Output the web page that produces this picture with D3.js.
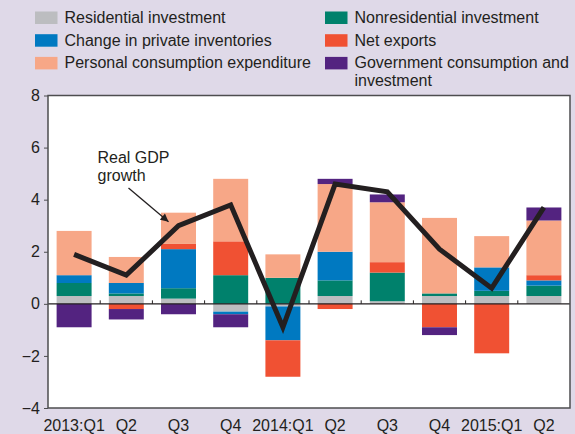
<!DOCTYPE html>
<html>
<head>
<meta charset="utf-8">
<script src="https://cdn.jsdelivr.net/npm/d3@7"></script>
<style>
  body { margin: 0; background: #dfd9e8; }
  svg { display: block; font-family: "Liberation Sans", Arial, sans-serif; }
</style>
</head>
<body>
<div id="chart"></div>
<script>
// Quartale und Achsenbeschriftung
var quarters = ["2013Q1", "2013Q2", "2013Q3", "2013Q4", "2014Q1", "2014Q2", "2014Q3", "2014Q4", "2015Q1", "2015Q2"];
var quarterLabels = ["2013:Q1", "Q2", "Q3", "Q4", "2014:Q1", "Q2", "Q3", "Q4", "2015:Q1", "Q2"];
var yTicks = [-4, -2, 0, 2, 4, 6, 8];

// Beiträge zum BIP-Wachstum (Prozentpunkte)
var residential = [0.3, 0.3, 0.2, -0.3, -0.1, 0.3, 0.1, 0.3, 0.3, 0.3];
var nonresidential = [0.5, 0.1, 0.4, 1.1, 1.0, 0.6, 1.1, 0.1, 0.2, 0.4];
var inventories = [0.3, 0.4, 1.5, -0.1, -1.3, 1.1, 0.0, 0.0, 0.9, 0.2];
var netExports = [0.0, -0.2, 0.2, 1.3, -1.4, -0.2, 0.4, -0.9, -1.9, 0.2];
var consumption = [1.7, 1.0, 1.2, 2.4, 0.9, 2.6, 2.3, 2.9, 1.2, 2.1];
var government = [-0.9, -0.4, -0.4, -0.5, 0.0, 0.2, 0.3, -0.3, 0.0, 0.5];
var gdpGrowth = [1.9, 1.1, 3.0, 3.8, -0.9, 4.6, 4.3, 2.1, 0.6, 3.7];

// Reihenfolge der Stapel (von der Nulllinie aus)
var series = [
    { key: "res", name: "Residential investment", values: residential, color: "#bcbdc0" },
    { key: "nonres", name: "Nonresidential investment", values: nonresidential, color: "#00816c" },
    { key: "inv", name: "Change in private inventories", values: inventories, color: "#0079c1" },
    { key: "nx", name: "Net exports", values: netExports, color: "#f05133" },
    { key: "pce", name: "Personal consumption expenditure", values: consumption, color: "#f7a787" },
    { key: "gov", name: "Government consumption and investment", values: government, color: "#532380" }
];
// Legende: zwei Spalten
var legendOrder = ["res", "inv", "pce", "nonres", "nx", "gov"];

var width = 575, height = 434;
var margin = { top: 95.5, right: 5, bottom: 26, left: 48 };

var svg = d3.select("#chart")
    .append("svg")
    .attr("width", width)
    .attr("height", height);

svg.append("rect")
    .attr("width", width)
    .attr("height", height)
    .attr("fill", "#dfd9e8");

var x = d3.scaleBand()
    .domain(quarters)
    .range([margin.left, width - margin.right])
    .paddingInner(0.33)
    .paddingOuter(0.165);

var y = d3.scaleLinear()
    .domain([-4, 8])
    .range([height - margin.bottom, margin.top]);

// Plotfläche
svg.append("rect")
    .attr("x", margin.left)
    .attr("y", margin.top)
    .attr("width", width - margin.right - margin.left)
    .attr("height", height - margin.bottom - margin.top)
    .attr("fill", "#ffffff");

// Tabelle für d3.stack aufbauen
var table = quarters.map(function(q, i) {
    var row = { q: q };
    series.forEach(function(s) { row[s.key] = s.values[i]; });
    return row;
});

var stacked = d3.stack()
    .keys(series.map(function(s) { return s.key; }))
    .offset(d3.stackOffsetDiverging)(table);

svg.append("g")
    .selectAll("g")
    .data(stacked)
    .enter()
    .append("g")
    .attr("fill", function(d, i) { return series[i].color; })
    .selectAll("rect")
    .data(function(d) { return d; })
    .enter()
    .append("rect")
    .attr("x", function(d) { return x(d.data.q); })
    .attr("width", x.bandwidth())
    .attr("y", function(d) { return y(Math.max(d[0], d[1])); })
    .attr("height", function(d) { return Math.abs(y(d[0]) - y(d[1])); });

// Nulllinie mit kleinen Strichen zwischen den Quartalen
svg.append("line")
    .attr("x1", margin.left)
    .attr("x2", width - margin.right)
    .attr("y1", y(0))
    .attr("y2", y(0))
    .attr("stroke", "#231f20")
    .attr("stroke-width", 1.2);

svg.append("g")
    .selectAll("line")
    .data(quarters.slice(1))
    .enter()
    .append("line")
    .attr("x1", function(d) { return x(d) - x.step() * x.paddingInner() / 2; })
    .attr("x2", function(d) { return x(d) - x.step() * x.paddingInner() / 2; })
    .attr("y1", y(0))
    .attr("y2", y(0) - 3.5)
    .attr("stroke", "#231f20")
    .attr("stroke-width", 1);

// Rahmen
svg.append("rect")
    .attr("x", margin.left)
    .attr("y", margin.top)
    .attr("width", width - margin.right - margin.left)
    .attr("height", height - margin.bottom - margin.top)
    .attr("fill", "none")
    .attr("stroke", "#4d4d4f")
    .attr("stroke-width", 1.5);

// y-Achse
var yAxis = svg.append("g")
    .attr("transform", "translate(" + margin.left + ",0)")
    .call(d3.axisLeft(y).tickValues(yTicks).tickSize(4).tickPadding(4));
yAxis.select(".domain").remove();
yAxis.selectAll("line").attr("stroke", "#4d4d4f");
yAxis.selectAll("text")
    .attr("font-size", 16)
    .attr("font-family", "Liberation Sans, Arial, sans-serif")
    .attr("fill", "#231f20");

// x-Achse
var xAxis = svg.append("g")
    .attr("transform", "translate(0," + (height - margin.bottom) + ")")
    .call(d3.axisBottom(x).tickSize(0).tickPadding(11.5)
        .tickFormat(function(d, i) { return quarterLabels[i]; }));
xAxis.select(".domain").remove();
xAxis.selectAll("text")
    .attr("font-size", 16)
    .attr("font-family", "Liberation Sans, Arial, sans-serif")
    .attr("fill", "#231f20");

// BIP-Linie
var line = d3.line()
    .x(function(d, i) { return x(quarters[i]) + x.bandwidth() / 2; })
    .y(function(d) { return y(d); });

svg.append("path")
    .datum(gdpGrowth)
    .attr("d", line)
    .attr("fill", "none")
    .attr("stroke", "#231f20")
    .attr("stroke-width", 5)
    .attr("stroke-linejoin", "miter");

// Beschriftung "Real GDP growth" mit Pfeil
svg.append("defs")
    .append("marker")
    .attr("id", "arrow")
    .attr("viewBox", "0 0 10 10")
    .attr("refX", 10)
    .attr("refY", 5)
    .attr("markerWidth", 9)
    .attr("markerHeight", 8)
    .attr("markerUnits", "userSpaceOnUse")
    .attr("orient", "auto")
    .append("path")
    .attr("d", "M0,0L10,5L0,10z")
    .attr("fill", "#231f20");

var q3x = x(quarters[2]) + x.bandwidth() / 2;
svg.append("line")
    .attr("x1", q3x - 50)
    .attr("y1", y(4.45))
    .attr("x2", q3x - 10)
    .attr("y2", y(3.15))
    .attr("stroke", "#231f20")
    .attr("stroke-width", 1.3)
    .attr("marker-end", "url(#arrow)");

var note = svg.append("text")
    .attr("font-size", 16)
    .attr("fill", "#231f20");
note.append("tspan").attr("x", q3x - 81).attr("y", y(5.4)).text("Real GDP");
note.append("tspan").attr("x", q3x - 81).attr("y", y(4.7)).text("growth");

// Legende
var legend = svg.append("g");
legendOrder.forEach(function(k, i) {
    var s = series.filter(function(d) { return d.key == k; })[0];
    var col = Math.floor(i / 3), row = i % 3;
    var gx = col == 0 ? 35 : 325;
    var gy = 11.5 + row * 22.7;
    legend.append("rect")
        .attr("x", gx)
        .attr("y", gy)
        .attr("width", 22.5)
        .attr("height", 12.5)
        .attr("fill", s.color);
    var t = legend.append("text")
        .attr("font-size", 16)
        .attr("fill", "#231f20");
    var lines = k == "gov" ? ["Government consumption and", "investment"] : [s.name];
    lines.forEach(function(l, j) {
        t.append("tspan")
            .attr("x", gx + 29.5)
            .attr("y", gy + 11.3 + j * 18)
            .text(l);
    });
});
</script>
</body>
</html>
